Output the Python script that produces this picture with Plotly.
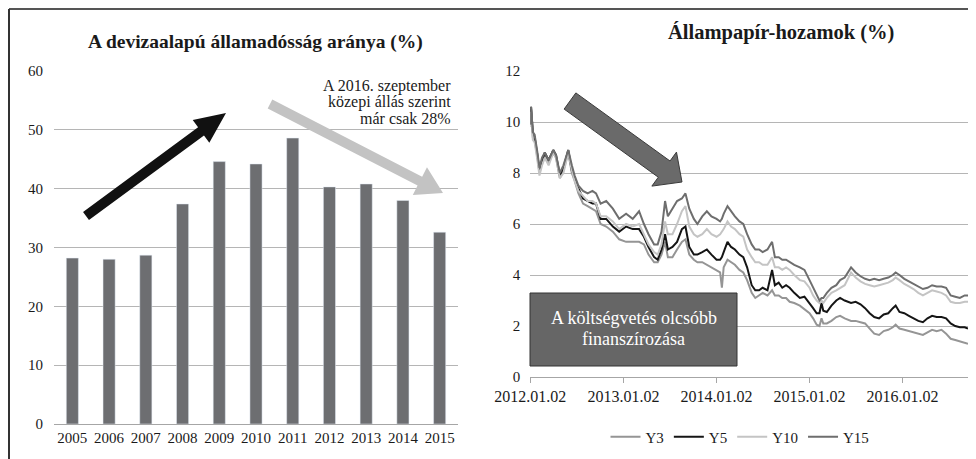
import plotly.graph_objects as go

# browser window size; the page body adds an 8px margin around the plot div
W, H = 976, 459
OFF = 8
FW, FH = W - OFF, H - OFF

# ---------------- data: left chart ----------------
years = ['2005', '2006', '2007', '2008', '2009', '2010', '2011', '2012', '2013', '2014', '2015']
fx_debt_share = [28.2, 28.0, 28.7, 37.4, 44.6, 44.2, 48.6, 40.3, 40.8, 38.0, 32.6]

# ---------------- data: right chart ----------------
dates = [
    '2012-01-02', '2012-01-05', '2012-01-12', '2012-01-19', '2012-01-30', '2012-02-07', '2012-02-17',
    '2012-02-28', '2012-03-14', '2012-04-01', '2012-04-12', '2012-04-27', '2012-05-11', '2012-05-30',
    '2012-06-13', '2012-06-24', '2012-07-09', '2012-07-27', '2012-08-14', '2012-09-02', '2012-09-16',
    '2012-10-04', '2012-10-26', '2012-11-21', '2012-12-16',
    '2013-01-12', '2013-02-07', '2013-03-04', '2013-03-23', '2013-04-10', '2013-05-02', '2013-05-16',
    '2013-05-31', '2013-06-14', '2013-06-25', '2013-07-13', '2013-07-31', '2013-08-19', '2013-09-02',
    '2013-09-17', '2013-10-05', '2013-10-19', '2013-11-07', '2013-11-25', '2013-12-13',
    '2014-01-02', '2014-01-16', '2014-01-23', '2014-01-30', '2014-02-14', '2014-02-28', '2014-03-15',
    '2014-04-02', '2014-04-17', '2014-05-02', '2014-05-20', '2014-06-03', '2014-06-18', '2014-07-02',
    '2014-07-21', '2014-08-08', '2014-08-19', '2014-09-03', '2014-09-17', '2014-10-02', '2014-10-16',
    '2014-11-03', '2014-11-25', '2014-12-13',
    '2015-01-02', '2015-01-16', '2015-01-30', '2015-02-10', '2015-02-18', '2015-02-25', '2015-03-11',
    '2015-03-29', '2015-04-17', '2015-05-02', '2015-05-20', '2015-06-14', '2015-07-02', '2015-07-21',
    '2015-08-08', '2015-08-26', '2015-09-13', '2015-10-02', '2015-10-20', '2015-11-07', '2015-11-25',
    '2015-12-06', '2015-12-21',
    '2016-01-09', '2016-01-27', '2016-02-14', '2016-03-04', '2016-03-22', '2016-04-09', '2016-04-27',
    '2016-05-15', '2016-06-03', '2016-06-21', '2016-07-09', '2016-07-27', '2016-08-14', '2016-09-02',
    '2016-09-15',
]
y3 = [
    9.9, 10.5, 9.4, 9.3, 8.6, 8.0, 8.4, 8.7, 8.4, 8.8, 8.6, 7.8, 8.1, 8.8, 8.0, 7.7, 7.2, 6.8, 6.7, 6.6, 6.5, 6.0, 5.9, 5.7, 5.4,
    5.3, 5.3, 5.3, 5.2, 4.8, 4.5, 4.5, 4.8, 5.3, 4.7, 4.7, 5.0, 5.3, 5.4, 4.8, 4.6, 4.5, 4.5, 4.4, 4.3,
    4.2, 4.1, 3.5, 4.3, 4.6, 4.5, 4.4, 4.2, 4.1, 3.8, 3.3, 3.1, 3.2, 3.3, 3.2, 3.4, 3.2, 3.2, 3.1, 3.1, 2.95, 2.9, 2.8, 2.65,
    2.5, 2.3, 2.05, 2.0, 2.3, 2.1, 2.1, 2.2, 2.35, 2.4, 2.3, 2.2, 2.2, 2.15, 2.1, 1.9, 1.7, 1.65, 1.8, 1.85, 1.95, 2.05, 1.9,
    1.85, 1.8, 1.75, 1.7, 1.65, 1.75, 1.85, 1.8, 1.85, 1.7, 1.5, 1.45, 1.4, 1.35, 1.3,
]
y5 = [
    9.9, 10.6, 9.6, 9.4, 8.7, 8.1, 8.5, 8.8, 8.5, 8.9, 8.7, 7.9, 8.2, 8.9, 8.1, 7.8, 7.4, 7.0, 6.9, 6.8, 6.8, 6.2, 6.2, 5.9, 5.7,
    5.9, 5.8, 5.8, 5.5, 5.1, 4.7, 4.6, 5.0, 5.6, 5.0, 5.1, 5.3, 5.8, 5.9, 5.1, 4.8, 4.8, 4.9, 5.0, 4.8,
    4.6, 4.6, 4.7, 4.9, 5.3, 5.1, 5.0, 4.8, 4.7, 4.3, 3.6, 3.4, 3.4, 3.5, 3.4, 4.2, 3.6, 3.7, 3.5, 3.6, 3.5, 3.3, 3.1, 3.15,
    2.9, 2.7, 2.5, 2.5, 2.9, 2.6, 2.55, 2.8, 3.0, 3.1, 3.0, 2.9, 2.95, 2.85, 2.7, 2.5, 2.35, 2.3, 2.45, 2.5, 2.7, 2.8, 2.55,
    2.5, 2.4, 2.3, 2.2, 2.15, 2.3, 2.4, 2.35, 2.35, 2.3, 2.1, 2.0, 1.95, 1.95, 1.9,
]
y10 = [
    9.8, 10.4, 9.3, 9.2, 8.5, 7.9, 8.3, 8.6, 8.3, 8.8, 8.6, 7.8, 8.0, 8.8, 8.1, 7.7, 7.3, 7.1, 6.9, 6.9, 6.8, 6.3, 6.3, 6.1, 5.8,
    6.0, 5.9, 6.0, 5.6, 5.2, 4.9, 4.8, 5.2, 6.1, 5.6, 5.6, 6.0, 6.5, 6.7, 5.9, 5.6, 5.5, 5.6, 5.8, 5.6,
    5.5, 5.6, 5.7, 5.8, 6.1, 5.9, 5.8, 5.6, 5.5, 5.0, 4.7, 4.5, 4.5, 4.4, 4.4, 4.7, 4.3, 4.3, 4.2, 4.3, 4.2, 4.0, 3.8, 3.75,
    3.5, 3.2, 3.0, 2.9, 3.0, 2.9, 3.1, 3.3, 3.4, 3.5, 3.6, 4.1, 3.9, 3.75, 3.65, 3.6, 3.55, 3.6, 3.65, 3.7, 3.8, 3.9, 3.8,
    3.65, 3.55, 3.45, 3.3, 3.2, 3.3, 3.4, 3.35, 3.3, 3.2, 2.95, 2.9, 2.9, 2.95, 2.95,
]
y15 = [
    9.9, 10.6, 9.6, 9.5, 8.8, 8.2, 8.6, 8.8, 8.5, 8.9, 8.7, 8.0, 8.3, 8.9, 8.3, 7.9, 7.5, 7.3, 7.2, 7.3, 7.2, 6.8, 6.9, 6.6, 6.2,
    6.4, 6.2, 6.5, 6.0, 5.6, 5.2, 5.2, 5.7, 6.9, 6.3, 6.6, 6.9, 7.0, 7.2, 6.6, 6.2, 6.0, 6.3, 6.5, 6.3,
    6.2, 6.1, 6.2, 6.4, 6.7, 6.5, 6.3, 6.1, 6.0, 5.6, 5.2, 5.0, 5.0, 4.9, 5.0, 5.3, 4.7, 4.7, 4.6, 4.6, 4.5, 4.4, 4.3, 4.2,
    3.8, 3.5, 3.2, 3.0, 3.1, 3.1, 3.3, 3.5, 3.6, 3.8, 3.9, 4.3, 4.1, 3.95, 3.85, 3.8, 3.85, 3.8, 3.85, 3.9, 4.0, 4.1, 4.0,
    3.85, 3.75, 3.65, 3.55, 3.45, 3.5, 3.6, 3.55, 3.55, 3.5, 3.2, 3.15, 3.1, 3.2, 3.2,
]
series_names = ['Y3', 'Y5', 'Y10', 'Y15']
date_tick_vals = ['2012-01-02', '2013-01-02', '2014-01-02', '2015-01-02', '2016-01-02']
date_tick_text = ['2012.01.02', '2013.01.02', '2014.01.02', '2015.01.02', '2016.01.02']

# ---------------- helpers (window pixel -> figure paper) ----------------
def px(x):
    return (x - OFF) / FW


def py(y):
    return 1 - (y - OFF) / FH


def arrow_path(tail, tip, w, hw, hl):
    tx, ty = tail
    qx, qy = tip
    dx, dy = qx - tx, qy - ty
    L = (dx * dx + dy * dy) ** 0.5
    ux, uy = dx / L, dy / L
    nx, ny = -uy, ux
    bx, by = qx - ux * hl, qy - uy * hl
    pts = [
        (tx + nx * w / 2, ty + ny * w / 2),
        (bx + nx * w / 2, by + ny * w / 2),
        (bx + nx * hw / 2, by + ny * hw / 2),
        (qx, qy),
        (bx - nx * hw / 2, by - ny * hw / 2),
        (bx - nx * w / 2, by - ny * w / 2),
        (tx - nx * w / 2, ty - ny * w / 2),
    ]
    return 'M ' + ' L '.join(f'{px(a):.5f},{py(b):.5f}' for a, b in pts) + ' Z'


FONT = 'Liberation Serif'
TXT = '#1a1a1a'
GRID = '#b5b5b5'

fig = go.Figure()
fig.add_trace(go.Bar(
    x=years, y=fx_debt_share, marker_color='#6d6e71', width=0.33,
    xaxis='x', yaxis='y', showlegend=False, hoverinfo='x+y',
))
colors = ['#959595', '#151515', '#c4c4c4', '#6e6e6e']
for name, vals, col in zip(series_names, [y3, y5, y10, y15], colors):
    fig.add_trace(go.Scatter(
        x=dates, y=vals, mode='lines', name=name,
        line=dict(color=col, width=2), xaxis='x2', yaxis='y2',
    ))

tickfont = dict(family=FONT, size=15, color=TXT)

fig.update_layout(
    width=FW, height=FH, autosize=False,
    margin=dict(l=0, r=0, t=0, b=0, pad=0),
    paper_bgcolor='white', plot_bgcolor='white',
    font=dict(family=FONT, color=TXT),
    xaxis=dict(domain=[px(54), px(458)], anchor='y', type='category', range=[-0.5, 10.5],
               showgrid=False, showline=True, linecolor='#a6a6a6', linewidth=1, automargin=False,
               ticks='', tickfont=tickfont, fixedrange=True),
    yaxis=dict(domain=[py(424), py(71)], anchor='x', range=[0, 60], dtick=10, automargin=False,
               showgrid=True, gridcolor=GRID, gridwidth=1, zeroline=False, showline=False,
               tickfont=tickfont, ticklabelstandoff=10, fixedrange=True),
    xaxis2=dict(domain=[px(530.3), px(968)], anchor='y2', type='date', automargin=False,
                range=['2012-01-02', '2016-09-15'],
                tickvals=date_tick_vals, ticktext=date_tick_text,
                showgrid=False, showline=True, linecolor='#a6a6a6', linewidth=1,
                ticks='outside', ticklen=5, tickcolor='#a6a6a6',
                tickfont=dict(family=FONT, size=16, color=TXT), fixedrange=True),
    yaxis2=dict(domain=[py(377), py(71)], anchor='x2', range=[0, 12], dtick=2, automargin=False,
                showgrid=True, gridcolor=GRID, gridwidth=1, zeroline=False, showline=False,
                tickfont=tickfont, ticklabelstandoff=9, fixedrange=True),
    legend=dict(orientation='h', x=px(740), xanchor='center', y=py(437), yanchor='middle',
                font=dict(family=FONT, size=15, color=TXT), bgcolor='rgba(0,0,0,0)',
                itemwidth=30, tracegroupgap=0),
    showlegend=True,
)

shapes = [
    # outer frame (top and left)
    dict(type='line', xref='paper', yref='paper', x0=px(9), x1=1, y0=py(9), y1=py(9),
         line=dict(color='#555555', width=2)),
    dict(type='line', xref='paper', yref='paper', x0=px(9), x1=px(9), y0=py(9), y1=0,
         line=dict(color='#333333', width=2)),
    # arrows on left chart
    dict(type='path', xref='paper', yref='paper', path=arrow_path((86, 216), (226, 113), 10, 28, 31),
         fillcolor='#111111', line=dict(width=0)),
    dict(type='path', xref='paper', yref='paper', path=arrow_path((270, 104), (443, 193), 10, 31, 26),
         fillcolor='#c3c3c3', line=dict(width=0)),
    # arrow on right chart
    dict(type='path', xref='paper', yref='paper', path=arrow_path((570, 101), (682, 182), 20, 42, 22),
         fillcolor='#6a6a6a', line=dict(color='#3a3a3a', width=1)),
    # text box
    dict(type='rect', xref='paper', yref='paper', x0=px(530), x1=px(737), y0=py(366), y1=py(293),
         fillcolor='#666666', line=dict(color='#333333', width=1)),
]
fig.update_layout(shapes=shapes)

ann = [
    dict(text='<b>A devizaalapú államadósság aránya (%)</b>', x=px(256), y=py(42),
         font=dict(size=19.5, family=FONT, color=TXT)),
    dict(text='<b>Állampapír-hozamok (%)</b>', x=px(781), y=py(33),
         font=dict(size=20.5, family=FONT, color=TXT)),
    dict(text='A 2016. szeptember', x=px(452), y=py(86), xanchor='right',
         font=dict(size=16, family=FONT, color=TXT)),
    dict(text='közepi állás szerint', x=px(452), y=py(102.5), xanchor='right',
         font=dict(size=16, family=FONT, color=TXT)),
    dict(text='már csak 28%', x=px(452), y=py(119), xanchor='right',
         font=dict(size=16, family=FONT, color=TXT)),
    dict(text='A költségvetés olcsóbb', x=px(633.5), y=py(318),
         font=dict(size=18, family=FONT, color='white')),
    dict(text='finanszírozása', x=px(633.5), y=py(339),
         font=dict(size=18, family=FONT, color='white')),
]
for a in ann:
    a.setdefault('xanchor', 'center')
    a.update(xref='paper', yref='paper', yanchor='middle', showarrow=False, borderpad=0)
fig.update_layout(annotations=ann)

fig.write_html('out.html')
